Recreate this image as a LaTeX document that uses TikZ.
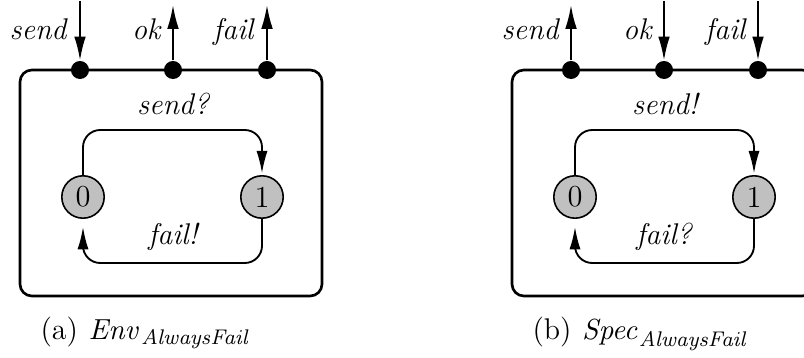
\documentclass[tikz,border=0pt]{standalone}
\usetikzlibrary{arrows.meta}
\definecolor{stategray}{RGB}{192,192,192}
\begin{document}
\begin{tikzpicture}[x=0.3774pt,y=-0.3774pt,
  frame/.style={draw,line width=1pt,rounded corners=4.5pt},
  port/.style={circle,fill=black,inner sep=0pt,minimum size=6.8pt},
  state/.style={circle,draw,line width=0.6pt,fill=stategray,inner sep=0pt,minimum size=16pt,font=\fontsize{11.5}{13}\selectfont},
  sig/.style={line width=0.75pt,-{Latex[length=9pt,width=4.4pt]}},
  edge/.style={line width=0.7pt,rounded corners=6.5pt,-{Latex[length=8.5pt,width=4.2pt]}},
  plabel/.style={anchor=base east,font=\fontsize{11.3}{13}\selectfont\itshape,inner sep=0pt},
  elabel/.style={anchor=base,font=\fontsize{11.3}{13}\selectfont\itshape,inner sep=0pt},
  caption/.style={anchor=base west,inner sep=0pt,font=\fontsize{11.3}{13}\selectfont}]
\useasboundingbox (0,0) rectangle (804,358);
\clip (0,0) rectangle (804,358);
% ---------- (a) Env ----------
\draw[frame] (20,70) rectangle (322,296);
\node[port] (aS) at (80,70) {};
\node[port] (aO) at (173,70) {};
\node[port] (aF) at (267,70) {};
\coordinate (aSt) at (80,1);
\coordinate (aOt) at (173,5);
\coordinate (aFt) at (267,5);
\draw[sig] (aSt) -- (aS);
\draw[sig] (aO) -- (aOt);
\draw[sig] (aF) -- (aFt);
\node[plabel] (aSl) at (67,40) {send};
\node[plabel] (aOl) at (161,40) {ok};
\node[plabel] (aFl) at (254,40) {fail};
\node[state] (a0) at (83,197) {0};
\node[state] (a1) at (262,197) {1};
\coordinate (atop) at (0,130);
\coordinate (abot) at (0,263);
\draw[edge,shorten >=0.6pt] (a0) -- (a0|-atop) -- (a1|-atop) -- (a1);
\draw[edge,shorten >=3pt] (a1) -- (a1|-abot) -- (a0|-abot) -- (a0);
\node[elabel] (aup) at (173,115) {send?};
\node[elabel] (adn) at (173,245) {fail!};
\node[caption] (capa) at (40,340) {(a)\hskip4pt$\mathit{Env}_{\mathit{AlwaysFail}}$};
% ---------- (b) Spec ----------
\draw[frame] (512,70) rectangle (814,296);
\node[port] (bS) at (571,70) {};
\node[port] (bO) at (664,70) {};
\node[port] (bF) at (758,70) {};
\coordinate (bSt) at (571,5);
\coordinate (bOt) at (664,1);
\coordinate (bFt) at (758,1);
\draw[sig] (bS) -- (bSt);
\draw[sig] (bOt) -- (bO);
\draw[sig] (bFt) -- (bF);
\node[plabel] (bSl) at (559,40) {send};
\node[plabel] (bOl) at (652,40) {ok};
\node[plabel] (bFl) at (746,40) {fail};
\node[state] (b0) at (575,197) {0};
\node[state] (b1) at (754,197) {1};
\coordinate (btop) at (0,130);
\coordinate (bbot) at (0,263);
\draw[edge,shorten >=0.6pt] (b0) -- (b0|-btop) -- (b1|-btop) -- (b1);
\draw[edge,shorten >=3pt] (b1) -- (b1|-bbot) -- (b0|-bbot) -- (b0);
\node[elabel] (bup) at (665,115) {send!};
\node[elabel] (bdn) at (664,245) {fail?};
\node[caption] (capb) at (532,340) {(b)\hskip4pt$\mathit{Spec}_{\mathit{AlwaysFail}}$};
\end{tikzpicture}
\end{document}
